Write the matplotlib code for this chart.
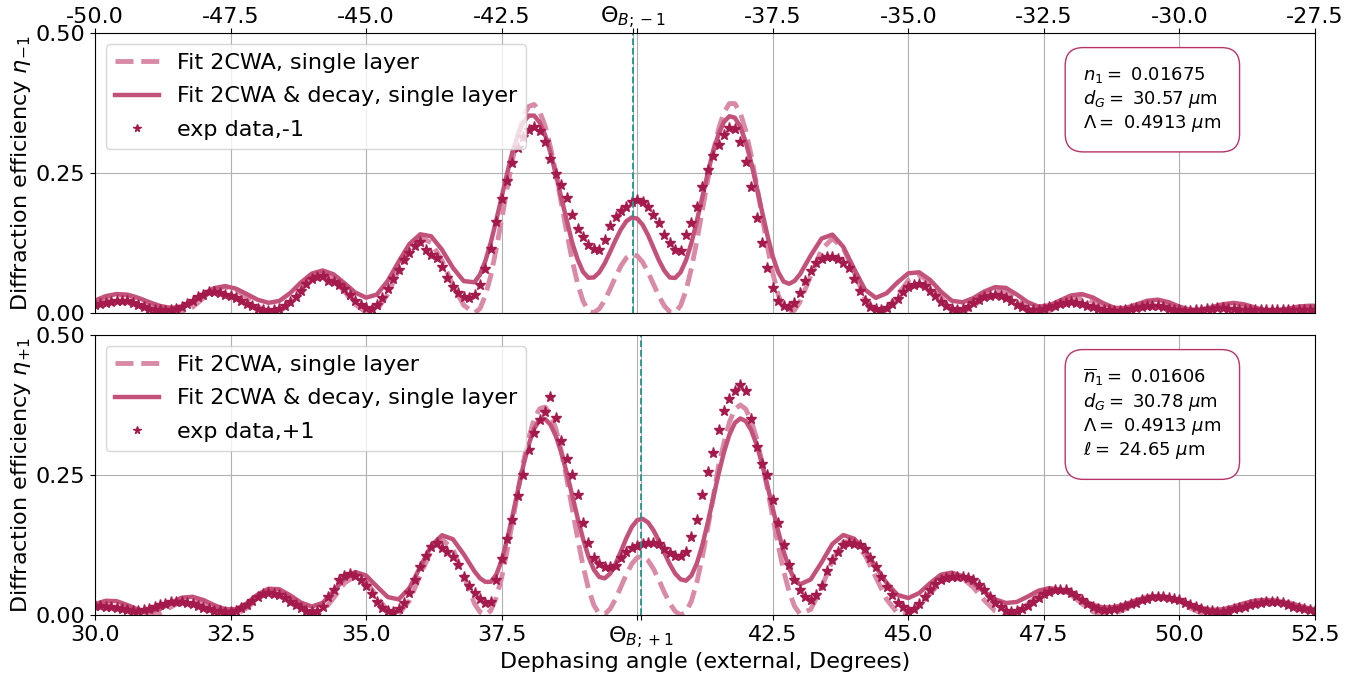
import numpy as np
import matplotlib as mpl
mpl.use('Agg')
import matplotlib.pyplot as plt

# Bragg angles of the two diffraction orders (external, degrees)
theta_b_m1 = -40.08
theta_b_p1 = 40.07

# fitted curves: 0.2 degree steps in the wings, 0.1 degree around the Bragg angle
fit_x_m1 = np.concatenate([np.linspace(-50.0, -43.2, 35),
                           np.linspace(-43.0, -37.0, 61),
                           np.linspace(-36.8, -27.4, 48)])
fit_x_p1 = np.concatenate([np.linspace(30.0, 36.8, 35),
                           np.linspace(37.0, 43.0, 61),
                           np.linspace(43.2, 52.6, 48)])

fit_2cwa_m1 = [
    # -50.0 .. -43.2
    0.0165, 0.0262, 0.0322, 0.0322, 0.0266, 0.0173, 0.0077, 0.0013, 0.0007, 0.0103,
    0.0265, 0.0411, 0.047, 0.0415, 0.0276, 0.0118, 0.0014, 0.0022, 0.0182, 0.0424,
    0.063, 0.070, 0.0602, 0.0387, 0.0154, 0.0014, 0.0051, 0.0338, 0.0763, 0.1152,
    0.1344, 0.126, 0.0933, 0.050, 0.0139,
    # -43.0 .. -37.0
    0.0, 0.0079, 0.0312, 0.0668, 0.1144, 0.167, 0.222, 0.2734, 0.3175, 0.3506,
    0.369, 0.3723, 0.3603, 0.3342, 0.2962, 0.2495, 0.197, 0.144, 0.0947, 0.0526,
    0.0216, 0.0037, 0.0004, 0.0076, 0.0225, 0.0426, 0.0644, 0.0842, 0.0985, 0.1048,
    0.102, 0.0908, 0.0729, 0.0513, 0.0301, 0.0126, 0.0022, 0.0007, 0.0132, 0.0402,
    0.0801, 0.129, 0.1827, 0.2369, 0.287, 0.3282, 0.3583, 0.3741, 0.3739, 0.3576,
    0.326, 0.282, 0.2298, 0.1741, 0.1192, 0.0711, 0.0325, 0.0083, 0.0, 0.0051,
    0.0195,
    # -36.8 .. -27.4
    0.0665, 0.1136, 0.133, 0.1157,
    0.0727, 0.0265, 0.0012, 0.0068, 0.0318, 0.0583, 0.068, 0.0545, 0.0277, 0.0049,
    0.0009, 0.0118, 0.0285, 0.0399, 0.0384, 0.0248, 0.0083, 0.0, 0.0038, 0.0144,
    0.0244, 0.0273, 0.021, 0.0097, 0.0012, 0.001, 0.0082, 0.0167, 0.020, 0.0157,
    0.0074, 0.0009, 0.0007, 0.0054, 0.0114, 0.014, 0.0113, 0.0054, 0.0007, 0.0006,
    0.0045, 0.0092, 0.011, 0.0105]

fit_decay_m1 = [
    # -50.0 .. -43.2
    0.0223, 0.0301, 0.0339, 0.0325, 0.027, 0.0194, 0.0126, 0.0091, 0.0114, 0.0211,
    0.034, 0.0445, 0.048, 0.0435, 0.0338, 0.0237, 0.0182, 0.0215, 0.0356, 0.0546,
    0.0704, 0.076, 0.0691, 0.0533, 0.0366, 0.0274, 0.033, 0.0574, 0.0915, 0.1233,
    0.1406, 0.137, 0.113, 0.0809, 0.057,
    # -43.0 .. -37.0
    0.0549, 0.0686, 0.093, 0.126, 0.1653, 0.2072, 0.2489, 0.2879, 0.318, 0.3407,
    0.3525, 0.3525, 0.3406, 0.3181, 0.2863, 0.2477, 0.2057, 0.1657, 0.126, 0.0959,
    0.0737, 0.0629, 0.0635, 0.0726, 0.0886, 0.109, 0.1303, 0.1494, 0.1639, 0.1706,
    0.1686, 0.1575, 0.139, 0.1165, 0.094, 0.0756, 0.0634, 0.0626, 0.0727, 0.0942,
    0.1252, 0.1644, 0.207, 0.2491, 0.2888, 0.3189, 0.3413, 0.3514, 0.3487, 0.3331,
    0.3055, 0.2695, 0.2263, 0.182, 0.139, 0.1009, 0.073, 0.0562, 0.0522, 0.0572,
    0.0689,
    # -36.8 .. -27.4
    0.1027, 0.133, 0.14, 0.1182,
    0.0788, 0.0418, 0.027, 0.0354, 0.0546, 0.0709, 0.0727, 0.0591, 0.0383, 0.0219,
    0.0191, 0.0267, 0.0383, 0.0462, 0.0448, 0.033, 0.0194, 0.0113, 0.0137, 0.0225,
    0.0313, 0.0338, 0.0278, 0.0172, 0.0091, 0.0089, 0.0149, 0.0218, 0.0238, 0.0193,
    0.0113, 0.0056, 0.0059, 0.0104, 0.0157, 0.018, 0.0153, 0.0094, 0.0047, 0.0045,
    0.0077, 0.0115, 0.013, 0.0125]

fit_2cwa_p1 = [
    # 30.0 .. 36.8
    0.0113, 0.0186, 0.0194, 0.0131, 0.0045, 0.0, 0.0038, 0.0143, 0.0246, 0.0279,
    0.022, 0.0108, 0.0017, 0.0011, 0.0123, 0.0288, 0.0406, 0.0399, 0.027, 0.0102,
    0.0005, 0.0063, 0.0301, 0.0568, 0.0699, 0.06, 0.0327, 0.007, 0.0011, 0.0258,
    0.0711, 0.115, 0.1349, 0.118, 0.0702,
    # 37.0 .. 43.0
    0.0201, 0.0054, 0.0, 0.0078, 0.0312, 0.0666, 0.1142, 0.1667, 0.2213, 0.2727,
    0.3166, 0.3497, 0.3683, 0.3713, 0.359, 0.3322, 0.2928, 0.2444, 0.1912, 0.1376,
    0.0882, 0.0472, 0.0175, 0.0019, 0.0013, 0.0108, 0.0282, 0.0502, 0.0726, 0.0912,
    0.1026, 0.1046, 0.0974, 0.0824, 0.0624, 0.0405, 0.0208, 0.0065, 0.0, 0.0049,
    0.0251, 0.0585, 0.1031, 0.1549, 0.2093, 0.2662, 0.3075, 0.3443, 0.3675, 0.375,
    0.368, 0.3476, 0.3158, 0.2738, 0.2258, 0.1744, 0.1245, 0.0788, 0.042, 0.0158,
    0.0019,
    # 43.2 .. 52.6
    0.01, 0.049, 0.0976, 0.1304,
    0.1318, 0.1072, 0.0675, 0.0278, 0.0032, 0.0019, 0.0158, 0.0379, 0.0587, 0.0695,
    0.0658, 0.049, 0.0265, 0.007, 0.0, 0.0055, 0.0194, 0.0353, 0.0456, 0.0456,
    0.0359, 0.0204, 0.0062, 0.0, 0.0026, 0.0107, 0.0212, 0.0301, 0.034, 0.0312,
    0.0229, 0.0121, 0.0033, 0.0, 0.0019, 0.007, 0.0139, 0.0205, 0.0249, 0.0259,
    0.0228, 0.0166, 0.0093, 0.0031]

fit_decay_p1 = [
    # 30.0 .. 36.8
    0.0193, 0.0254, 0.0247, 0.0177, 0.0096, 0.006, 0.0107, 0.0215, 0.0309, 0.0325,
    0.0267, 0.0175, 0.0103, 0.0101, 0.0207, 0.0364, 0.0469, 0.046, 0.0351, 0.0221,
    0.0151, 0.0216, 0.0423, 0.0651, 0.0768, 0.0705, 0.0509, 0.032, 0.0279, 0.0482,
    0.0862, 0.1234, 0.1424, 0.1354, 0.1086,
    # 37.0 .. 43.0
    0.0778, 0.0657, 0.0591, 0.0592, 0.0718, 0.0976, 0.1342, 0.177, 0.223, 0.2669,
    0.3047, 0.3328, 0.3484, 0.3501, 0.3398, 0.3195, 0.2901, 0.254, 0.2143, 0.1737,
    0.1365, 0.1045, 0.081, 0.0679, 0.0655, 0.0738, 0.0911, 0.1136, 0.1372, 0.1572,
    0.1694, 0.1717, 0.1652, 0.1512, 0.1324, 0.1112, 0.091, 0.074, 0.0637, 0.0613,
    0.0706, 0.0923, 0.1242, 0.1645, 0.2083, 0.2518, 0.291, 0.322, 0.3429, 0.351,
    0.3462, 0.3305, 0.3047, 0.2708, 0.2313, 0.19, 0.1493, 0.1134, 0.0837, 0.0638,
    0.0546,
    # 43.2 .. 52.6
    0.0636, 0.094, 0.127, 0.1428,
    0.1362, 0.1153, 0.0858, 0.0571, 0.036, 0.0302, 0.0392, 0.0567, 0.072, 0.0757,
    0.0694, 0.0566, 0.0412, 0.028, 0.0214, 0.0233, 0.0328, 0.0434, 0.048, 0.0451,
    0.0373, 0.0272, 0.0182, 0.0133, 0.014, 0.0191, 0.0262, 0.032, 0.034, 0.0315,
    0.0256, 0.0185, 0.0122, 0.0091, 0.0102, 0.0149, 0.0211, 0.0258, 0.0269, 0.025,
    0.0211, 0.0163, 0.0117, 0.0087]

# measured efficiencies, one point every 0.1 degree
exp_x_m1 = np.linspace(-50.0, -27.5, 226)
exp_x_p1 = np.linspace(30.0, 52.5, 226)

exp_m1 = [
    .015, .016, .018, .020, .021, .022, .021, .018, .014, .011,
    .008, .006, .005, .004, .005, .007, .011, .016, .022, .028,
    .033, .037, .038, .036, .033, .030, .026, .021, .016, .012,
    .008, .005, .004, .005, .008, .013, .020, .029, .040, .051,
    .060, .065, .066, .058, .055, .050, .042, .032, .022, .014,
    .009, .008, .014, .026, .042, .060, .077, .094, .108, .120,
    .126, .112, .104, .098, .082, .063, .047, .036, .029, .026,
    .032, .050, .078, .115, .162, .203, .235, .268, .295, .315,
    .326, .333, .325, .306, .275, .248, .228, .205, .175, .150,
    .135, .122, .115, .113, .130, .155, .172, .183, .190, .198,
    .202, .198, .190, .175, .160, .140, .125, .113, .110, .140,
    .160, .190, .225, .255, .280, .300, .318, .330, .328, .305,
    .270, .225, .170, .125, .080, .045, .022, .013, .011, .018,
    .035, .058, .075, .090, .096, .100, .100, .097, .090, .080,
    .060, .040, .022, .011, .007, .005, .009, .016, .025, .037,
    .046, .050, .051, .049, .040, .030, .020, .012, .007, .005,
    .007, .011, .017, .023, .028, .031, .032, .031, .027, .021,
    .015, .010, .006, .005, .005, .007, .010, .013, .016, .018,
    .019, .018, .016, .013, .010, .008, .006, .005, .004, .004,
    .005, .007, .009, .011, .012, .013, .012, .010, .008, .006,
    .005, .004, .004, .005, .006, .007, .008, .009, .009, .008,
    .007, .006, .005, .005, .005, .005, .005, .006, .006, .006,
    .006, .006, .006, .006, .006, .006]

exp_p1 = [
    .016, .016, .015, .014, .012, .010, .009, .008, .008, .009,
    .011, .014, .017, .020, .023, .024, .024, .022, .019, .016,
    .013, .010, .008, .007, .006, .006, .008, .012, .018, .025,
    .032, .037, .039, .038, .035, .030, .024, .018, .012, .008,
    .006, .008, .015, .033, .045, .062, .070, .074, .070, .063,
    .052, .038, .024, .013, .008, .006, .010, .022, .040, .062,
    .086, .105, .122, .128, .120, .112, .104, .090, .068, .052,
    .039, .028, .021, .024, .062, .100, .135, .170, .212, .250,
    .295, .325, .348, .362, .390, .352, .310, .278, .250, .215,
    .165, .128, .102, .091, .086, .085, .088, .102, .113, .120,
    .124, .126, .128, .128, .126, .118, .110, .106, .106, .112,
    .140, .170, .215, .255, .290, .330, .365, .385, .400, .410,
    .400, .350, .300, .270, .250, .205, .165, .125, .090, .062,
    .045, .032, .027, .035, .052, .078, .098, .112, .125, .128,
    .127, .125, .118, .102, .085, .068, .050, .035, .022, .014,
    .007, .010, .020, .033, .044, .055, .062, .066, .068, .068,
    .068, .066, .062, .054, .044, .032, .022, .014, .008, .006,
    .007, .011, .016, .023, .030, .037, .041, .044, .045, .044,
    .040, .034, .027, .020, .015, .011, .009, .009, .010, .013,
    .016, .019, .022, .026, .029, .032, .033, .033, .031, .029,
    .026, .022, .018, .014, .011, .008, .007, .006, .006, .008,
    .010, .012, .015, .018, .020, .022, .024, .024, .023, .021,
    .018, .015, .013, .011, .009, .008]

ticks_m1 = [-50.0, -47.5, -45.0, -42.5, -40.0, -37.5, -35.0, -32.5, -30.0, -27.5]
ticks_p1 = [30.0, 32.5, 35.0, 37.5, 40.0, 42.5, 45.0, 47.5, 50.0, 52.5]

params_m1 = (r'$n_1 =$ 0.01675' + '\n' + r'$d_G =$ 30.57 $\mu$m' + '\n'
             + r'$\Lambda =$ 0.4913 $\mu$m')
params_p1 = (r'$\overline{n}_1 =$ 0.01606' + '\n' + r'$d_G =$ 30.78 $\mu$m' + '\n'
             + r'$\Lambda =$ 0.4913 $\mu$m' + '\n' + r'$\ell =$ 24.65 $\mu$m')

c_dash = '#d98aa6'
c_solid = '#c3527a'
c_star = '#a51a4c'
c_box = '#b8336a'
c_bragg = '#22968a'
fs = 16


def draw_panel(ax, xf, y2cwa, ydecay, xe, ye, order, ticks, theta_b, params):
    ax.plot(xf, y2cwa, '--', color=c_dash, lw=3.5, label='Fit 2CWA, single layer')
    ax.plot(xf, ydecay, '-', color=c_solid, lw=3.2,
            label='Fit 2CWA & decay, single layer')
    ax.plot(xe, ye, '*', color=c_star, ms=8, label='exp data,%s1' % order)
    ax.axvline(theta_b, color=c_bragg, ls='--', lw=1.3)

    labels = ['' if t in (-40.0, 40.0) else '%.1f' % t for t in ticks]
    ax.set_xticks(list(ticks) + [theta_b],
                  labels + [r'$\Theta_{B; %s1}$' % order])
    ax.set_xlim(ticks[0], ticks[-1])
    ax.set_ylim(0, 0.5)
    ax.set_yticks([0, 0.25, 0.5], ['0.00', '0.25', '0.50'])
    ax.tick_params(labelsize=fs)
    ax.grid(True)
    ax.set_ylabel(r'Diffraction efficiency $\eta_{%s1}$' % order, fontsize=fs,
                  labelpad=2)
    ax.legend(loc='upper left', fontsize=fs, labelspacing=0.6, markerscale=0.7)
    ax.text(0.81, 0.887, params, transform=ax.transAxes, fontsize=13,
            va='top', ha='left',
            bbox=dict(boxstyle='round,pad=1', fc='white', ec=c_box))


fig = plt.figure(figsize=(13.7, 6.75), dpi=100)
ax_top = fig.add_axes([0.0693, 0.5363, 0.8906, 0.4148])
ax_bot = fig.add_axes([0.0693, 0.0889, 0.8906, 0.4148])

draw_panel(ax_top, fit_x_m1, fit_2cwa_m1, fit_decay_m1, exp_x_m1, exp_m1, '-',
           ticks_m1, theta_b_m1, params_m1)
ax_top.xaxis.tick_top()
for tick in ax_top.xaxis.get_major_ticks():
    tick.label2.set_va('baseline')

draw_panel(ax_bot, fit_x_p1, fit_2cwa_p1, fit_decay_p1, exp_x_p1, exp_p1, '+',
           ticks_p1, theta_b_p1, params_p1)
ax_bot.set_xlabel('Dephasing angle (external, Degrees)', fontsize=fs, labelpad=1)

fig.savefig('out.png', dpi=100)
